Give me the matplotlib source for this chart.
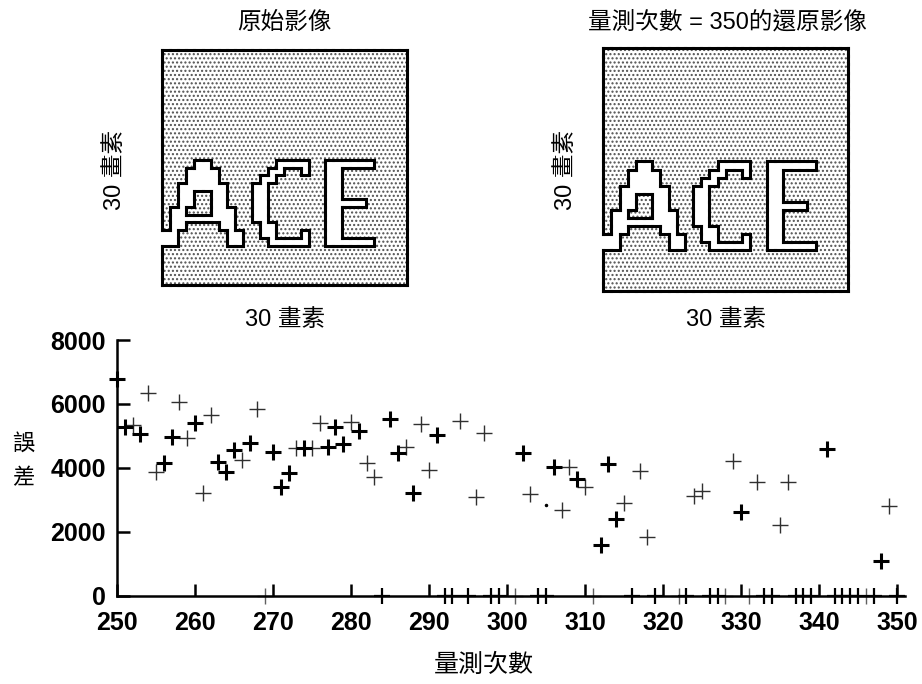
import numpy as np
import matplotlib.pyplot as plt
from matplotlib.patches import Rectangle
from matplotlib.collections import LineCollection

plt.rcParams['font.family'] = ['Liberation Sans', 'Noto Sans CJK TC', 'DejaVu Sans']

# 30x30 畫素影像 ('X' = 字母白色畫素)
letters = [
    "..............................",
    "..............................",
    "..............................",
    "..............................",
    "..............................",
    "..............................",
    "..............................",
    "..............................",
    "..............................",
    "..............................",
    "..............................",
    "..............................",
    "..............................",
    "..............................",
    "....XX........XXXX..XXXXXX....",
    "...XXXX......XX..X..XX........",
    "...XXXX.....XX......XX........",
    "..XXXXXX...XX.......XX........",
    "..XX..XX...XX.......XX........",
    "..XX..XX...XX.......XXXXX.....",
    ".XX...XXX..XX.......XX........",
    ".XXXXXXXX..XX.......XX........",
    ".XX....XX...XX......XX........",
    "XX......XX..XX...X..XX........",
    "XX......XX...XXXXX..XXXXXX....",
    "..............................",
    "..............................",
    "..............................",
    "..............................",
    "..............................",
]

# 散佈圖資料
bold_x = [250, 251, 253, 256, 257, 260, 263, 264, 265, 267, 270, 271, 272, 274, 277,
          278, 279, 281, 285, 286, 288, 291, 302, 306, 309, 312, 313, 314, 330, 341, 348]
bold_y = [6770, 5290, 5060, 4140, 4980, 5390, 4190, 3880, 4560, 4770, 4500, 3410, 3830, 4620, 4640,
          5290, 4750, 5150, 5520, 4450, 3220, 5030, 4450, 4020, 3640, 1590, 4110, 2400, 2630, 4590, 1100]
thin_x = [252, 254, 255, 258, 259, 261, 262, 266, 268, 273, 275, 276, 280, 282, 283, 287, 289, 290,
          294, 296, 297, 303, 307, 308, 310, 315, 317, 318, 324, 325, 329, 332, 335, 336, 349]
thin_y = [5340, 6330, 3880, 6070, 4920, 3220, 5650, 4250, 5840, 4620, 4620, 5390, 5450, 4160, 3720, 4640, 5360, 3930,
          5480, 3100, 5100, 3170, 2680, 4020, 3410, 2890, 3910, 1830, 3130, 3290, 4220, 3570, 2210, 3570, 2820]
zero_bold_x = [284, 292, 293, 295, 298, 299, 304, 305, 316, 319, 323, 326, 327, 333, 334,
               337, 338, 339, 342, 343, 344, 345, 347, 350]
zero_thin_x = [269, 301, 311, 322, 328, 331, 346]
dot_x = [305]
dot_y = [2840]

xticks = [250, 260, 270, 280, 290, 300, 310, 320, 330, 340, 350]
yticks = [0, 2000, 4000, 6000, 8000]


def outline(mask):
    h, w = mask.shape
    pad = np.ones((h + 2, w + 2), bool)
    pad[1:-1, 1:-1] = mask
    segs = []
    for r in range(h):
        for c in range(w):
            if mask[r, c]:
                continue
            if pad[r, c + 1]:
                segs.append([(c, r), (c + 1, r)])
            if pad[r + 2, c + 1]:
                segs.append([(c, r + 1), (c + 1, r + 1)])
            if pad[r + 1, c]:
                segs.append([(c, r), (c, r + 1)])
            if pad[r + 1, c + 2]:
                segs.append([(c + 1, r), (c + 1, r + 1)])
    return segs


def draw_image(ax, mask):
    ax.add_patch(Rectangle((0, 0), 30, 30, facecolor='white', edgecolor='#505050',
                           hatch='....', lw=0))
    rgba = np.zeros(mask.shape + (4,))
    rgba[mask] = [1, 1, 1, 1]
    ax.imshow(rgba, extent=(0, 30, 30, 0), interpolation='nearest', aspect='auto', zorder=2)
    lc = LineCollection(outline(mask), colors='black', linewidths=2.2,
                        capstyle='projecting', zorder=3, clip_on=False)
    ax.add_collection(lc)
    ax.set_xlim(0, 30)
    ax.set_ylim(30, 0)
    ax.axis('off')


mask = np.array([[ch == 'X' for ch in row] for row in letters])

fig = plt.figure(figsize=(9.22, 6.84), dpi=100)

ax1 = fig.add_axes([161.7 / 922, 1 - 285 / 684, 245.3 / 922, 235 / 684])
draw_image(ax1, mask)
ax2 = fig.add_axes([603.3 / 922, 1 - 290.7 / 684, 245 / 922, 242.4 / 684])
draw_image(ax2, mask)

cjk = ['Liberation Sans', 'Noto Sans CJK TC']
fig.text(284 / 922, 1 - 23 / 684, '原始影像', ha='center', va='center', fontsize=17,
         family=cjk, weight='medium')
fig.text(727 / 922, 1 - 23 / 684, '量測次數 = 350的還原影像', ha='center', va='center',
         fontsize=17, family=cjk, weight='medium')
for x, y, rot in [(285, 320, 0), (726, 320, 0), (115, 170, 90), (566, 170, 90)]:
    fig.text(x / 922, 1 - y / 684, '30 畫素', ha='center', va='center', fontsize=17,
             rotation=rot, family=cjk, weight='medium')

ax = fig.add_axes([117 / 922, 1 - 595.7 / 684, 787.8 / 922, 255.7 / 684])
ax.plot(thin_x, thin_y, '+', ms=11, mew=1.0, color='#303030', clip_on=False, zorder=3)
ax.plot(bold_x, bold_y, '+', ms=11, mew=2.2, color='black', clip_on=False, zorder=4)
ax.plot(zero_thin_x, [0] * len(zero_thin_x), '+', ms=11, mew=1.0, color='#606060',
        clip_on=False, zorder=2)
ax.plot(zero_bold_x, [0] * len(zero_bold_x), '+', ms=11, mew=1.6, color='black',
        clip_on=False, zorder=2)
ax.plot(dot_x, dot_y, '.', ms=3, color='black', zorder=3)

ax.set_xlim(250, 351)
ax.set_ylim(0, 8000)
ax.set_xticks(xticks)
ax.set_yticks(yticks)
ax.spines['top'].set_visible(False)
ax.spines['right'].set_visible(False)
ax.spines['left'].set_linewidth(1.8)
ax.spines['bottom'].set_linewidth(1.8)
ax.tick_params(direction='in', length=9, width=1.8, labelsize=18)
ax.tick_params(axis='x', pad=11)
ax.tick_params(axis='y', pad=8)
for lab in ax.get_xticklabels() + ax.get_yticklabels():
    lab.set_fontweight('bold')

fig.text(484 / 922, 1 - 665 / 684, '量測次數', ha='center', va='center', fontsize=18,
         family='Noto Sans CJK TC', weight='medium')
fig.text(23 / 922, 1 - 443 / 684, '誤', ha='center', va='center', fontsize=16,
         family='Noto Sans CJK TC')
fig.text(23 / 922, 1 - 478 / 684, '差', ha='center', va='center', fontsize=16,
         family='Noto Sans CJK TC')

fig.savefig('out.png', dpi=100)
